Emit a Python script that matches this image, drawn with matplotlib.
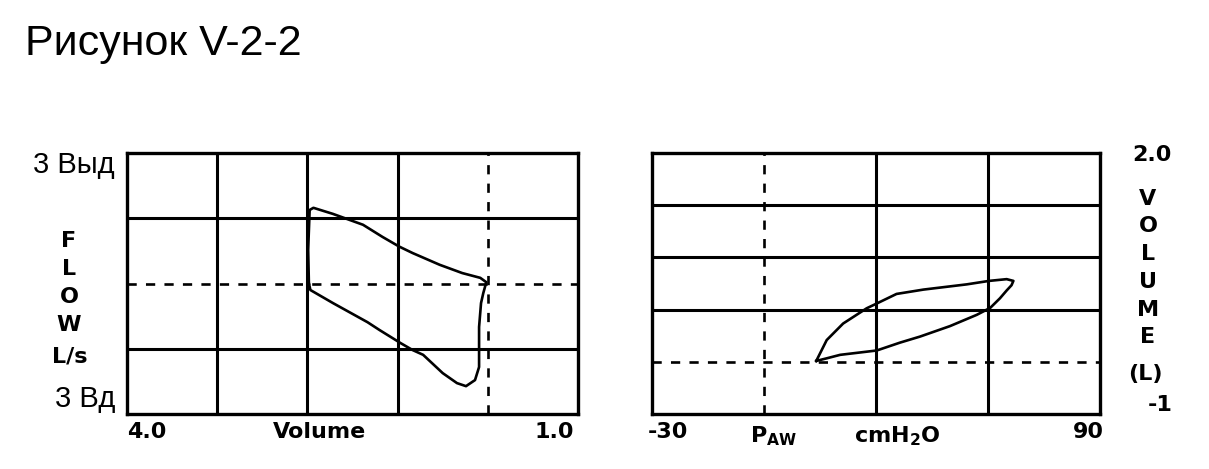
import matplotlib
matplotlib.use("Agg")
import matplotlib.pyplot as plt

W, H = 1209, 469

plt.rcParams["mathtext.fontset"] = "custom"
plt.rcParams["mathtext.rm"] = "DejaVu Sans:bold"
plt.rcParams["mathtext.it"] = "DejaVu Sans:bold"

# flow-volume loop (volume L, flow L/s)
vol = [2.79, 2.795, 2.785, 2.76, 2.63, 2.43, 2.30, 2.19, 2.10, 1.92, 1.77, 1.65,
       1.61, 1.63, 1.645, 1.658, 1.658, 1.658, 1.685, 1.745, 1.805, 1.90, 2.03,
       2.10, 2.18, 2.32, 2.40, 2.63, 2.78, 2.79]
flow = [0.0, 0.77, 1.69, 1.74, 1.60, 1.35, 1.07, 0.85, 0.70, 0.43, 0.24, 0.13,
        0.03, -0.22, -0.45, -1.0, -1.46, -1.92, -2.22, -2.36, -2.29, -2.06, -1.64,
        -1.53, -1.37, -1.07, -0.89, -0.45, -0.15, 0.0]

# pressure-volume loop (Paw cmH2O, volume L)
paw = [14.0, 16.8, 21.2, 27.5, 30.2, 35.5, 42.7, 54.3, 60.3, 65.0, 66.8, 66.3,
       65.0, 63.2, 60.6, 57.0, 49.8, 41.8, 36.4, 30.2, 20.4, 16.8, 14.0]
vt = [-0.39, -0.15, 0.04, 0.215, 0.27, 0.38, 0.43, 0.49, 0.53, 0.55, 0.53, 0.48,
      0.42, 0.33, 0.22, 0.14, 0.01, -0.11, -0.18, -0.27, -0.32, -0.36, -0.39]

vol_grid, vol_dash = [3.4, 2.8, 2.2], [1.6]
flow_grid, flow_dash = [1.5, -1.5], [0.0]
paw_grid, paw_dash = [30, 60], [0]
vt_grid, vt_dash = [1.4, 0.8, 0.2], [-0.4]

fig = plt.figure(figsize=(W / 100, H / 100), dpi=100)
ax1 = fig.add_axes([127 / W, 1 - 414 / H, 451 / W, 261 / H])
ax2 = fig.add_axes([652 / W, 1 - 414 / H, 448 / W, 261 / H])


def frame(ax, xlim, ylim, xg, xd, yg, yd):
    ax.set_xlim(*xlim)
    ax.set_ylim(*ylim)
    ax.set_xticks([])
    ax.set_yticks([])
    for s in ax.spines.values():
        s.set_linewidth(2.4)
    for v in xg:
        ax.axvline(v, color="k", lw=2.2)
    for v in xd:
        ax.axvline(v, color="k", lw=1.9, dashes=(3.5, 3.5))
    for v in yg:
        ax.axhline(v, color="k", lw=2.2)
    for v in yd:
        ax.axhline(v, color="k", lw=1.9, dashes=(3.5, 3.5))


frame(ax1, (4.0, 1.0), (-3, 3), vol_grid, vol_dash, flow_grid, flow_dash)
frame(ax2, (-30, 90), (-1, 2), paw_grid, paw_dash, vt_grid, vt_dash)
ax1.plot(vol, flow, color="k", lw=1.9, solid_joinstyle="round")
ax2.plot(paw, vt, color="k", lw=1.9, solid_joinstyle="round")


def P(x, y):
    return x / W, 1 - y / H


def txt(x, y, s, **kw):
    fig.text(*P(x, y), s, **kw)


sans = dict(family="Liberation Sans", color="k")
blk = dict(family="DejaVu Sans", weight="bold", color="k", fontsize=16,
           ha="center", va="center")

txt(25, 55, "Рисунок V-2-2", fontsize=31, ha="left", va="baseline", **sans)
txt(115, 173, "3 Выд", fontsize=21, ha="right", va="baseline", **sans)
txt(115, 407, "3 Вд", fontsize=21, ha="right", va="baseline", **sans)

txt(69, 283, "F\nL\nO\nW", linespacing=1.5, **blk)
txt(70, 356, "L/s", **blk)

txt(147, 432, "4.0", **blk)
txt(320, 432, "Volume", **blk)
txt(554, 432, "1.0", **blk)

txt(668, 432, "-30", **blk)
txt(774, 436, r"$\mathrm{P_{AW}}$", **blk)
txt(897, 436, r"$\mathrm{cmH_2O}$", **blk)
txt(1088, 432, "90", **blk)

txt(1152, 155, "2.0", **blk)
txt(1148, 268, "V\nO\nL\nU\nM\nE", linespacing=1.48, **blk)
txt(1145, 374, "(L)", **blk)
txt(1160, 405, "-1", **blk)

fig.savefig("out.png", dpi=100)
